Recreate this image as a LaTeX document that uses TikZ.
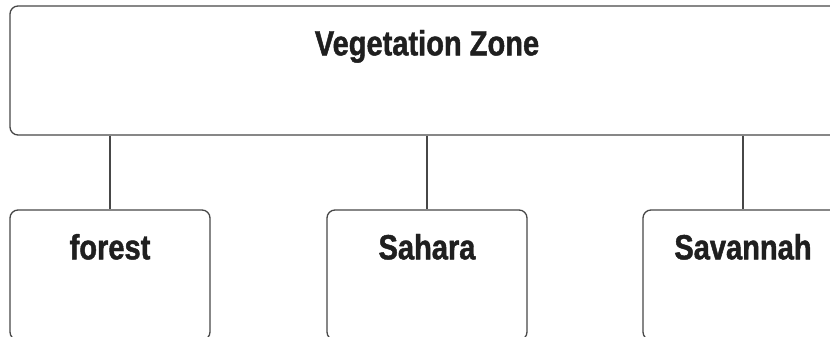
\documentclass[tikz,border=0pt]{standalone}
\usepackage{fontspec}
\setmainfont[FakeStretch=0.83,BoldFeatures={FakeBold=1.3}]{Liberation Sans}
\begin{document}
\begin{tikzpicture}[x=1pt,y=1pt,
  box/.style={draw=black!72,line width=1.3pt,rounded corners=8pt,minimum width=200pt,minimum height=130pt,inner sep=0pt},
  topbox/.style={box,minimum width=834pt,minimum height=129pt},
  lbl/.style={anchor=base,text=black!88,font=\bfseries\fontsize{35}{40}\selectfont,inner sep=0pt},
  conn/.style={draw=black!72,line width=1.3pt}]
\useasboundingbox (0,0) rectangle (830,337);
\clip (0,0) rectangle (830,337);
\node[topbox] (top) at (427,266.5) {};
\node[box] (forest) at (110,62) {};
\node[box] (sahara) at (427,62) {};
\node[box] (savannah) at (743,62) {};
\node[lbl] (tl) at ([yshift=-50pt]top.north) {Vegetation Zone};
\node[lbl] (fl) at ([yshift=-50pt]forest.north) {forest};
\node[lbl] (sl) at ([yshift=-50pt]sahara.north) {Sahara};
\node[lbl] (vl) at ([yshift=-50pt]savannah.north) {Savannah};
\draw[conn] (top.south -| forest.north) -- (forest.north);
\draw[conn] (top.south -| sahara.north) -- (sahara.north);
\draw[conn] (top.south -| savannah.north) -- (savannah.north);
\end{tikzpicture}
\end{document}
